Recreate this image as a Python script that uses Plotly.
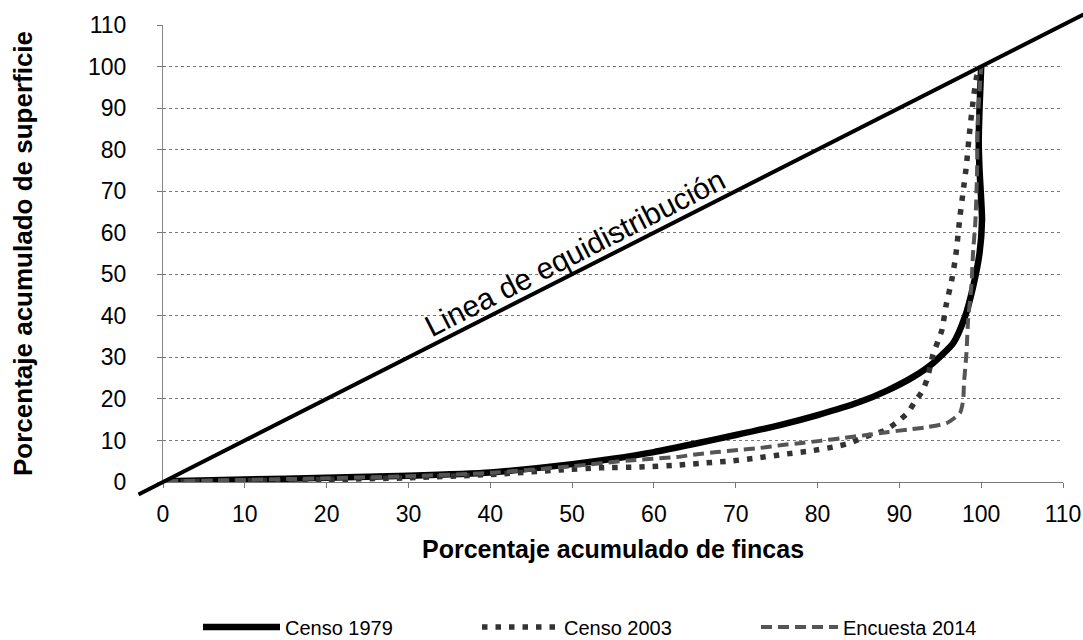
import plotly.graph_objects as go

# ---------------- data ----------------
ticks = [0, 10, 20, 30, 40, 50, 60, 70, 80, 90, 100, 110]

equi_x = [-3, 116]
equi_y = [-3, 116]

censo1979_x = [0.5, 10, 20, 30, 40, 50, 55, 60, 65, 70, 75.4, 80, 85.2, 88.5, 91.7, 94.1,
               96.6, 98.0, 99.0, 99.8, 100.1, 100.0, 99.8, 99.7, 99.8, 100]
censo1979_y = [0.2, 0.6, 1.0, 1.5, 2.3, 4.3, 5.6, 7.2, 9.2, 11.3, 13.7, 16.1, 19.3, 22, 25.3,
               28.6, 33.5, 39.7, 46.9, 55.1, 63, 68, 75, 82, 90, 100]

censo2003_x = [0.5, 10, 20, 30, 40, 48.5, 53.4, 58.3, 63.1, 66.4, 69.6, 72.7, 76, 79.2, 82.4,
               84, 85.4, 88.3, 89.7, 91, 91.8, 92.8, 93.4, 94.1, 95.2, 95.7, 96.4, 96.9, 97.4,
               97.8, 98.2, 98.5, 99, 99.5, 100]
censo2003_y = [0, 0.3, 0.6, 1.0, 1.8, 2.9, 3.4, 3.6, 4.1, 4.6, 5.1, 5.8, 6.7, 7.5, 8.6, 9.4,
               10.6, 12.5, 14.4, 16.6, 19, 21.9, 24.8, 30.6, 36.6, 42.4, 48.6, 54.6, 63.8, 70,
               76.3, 82.6, 91.5, 98, 100]

encuesta2014_x = [0.5, 10, 20, 30, 40, 50, 57, 62.8, 65.3, 67.7, 70.3, 73, 75.7, 78.1, 80.3,
                  83.1, 86, 88.5, 91, 93.4, 95.8, 97.4, 97.8, 97.9, 98.2, 98.4, 98.8, 99, 99.3,
                  99.5, 99.6, 100]
encuesta2014_y = [0.2, 0.5, 0.9, 1.4, 2.2, 3.8, 5.2, 6.0, 6.7, 7.2, 7.7, 8.2, 8.9, 9.4, 9.9,
                  10.6, 11.3, 12.0, 12.6, 13.2, 14.2, 16.6, 19.7, 23.8, 31, 39, 47, 55, 63,
                  75, 87, 100]

series_names = ["Censo 1979", "Censo 2003", "Encuesta 2014"]
x_title = "Porcentaje acumulado de fincas"
y_title = "Porcentaje acumulado de superficie"
line_label = "Linea de equidistribución"

# ---------------- layout geometry ----------------
W, H = 1083, 640
ML, MR, MT, MB = 138, 0, 0, 140
RW, RH = W - ML - MR, H - MT - MB
plot_left, plot_right, plot_top, plot_bottom = 163, 1063, 25, 482

dx0 = (plot_left - ML) / RW
dx1 = (plot_right - ML) / RW
dy0 = (H - MB - plot_bottom) / RH
dy1 = (H - MB - plot_top) / RH

AX_MIN, AX_MAX = 0, 110
sx = (AX_MAX - AX_MIN) / (dx1 - dx0)
sy = (AX_MAX - AX_MIN) / (dy1 - dy0)
x2_range = [AX_MIN - dx0 * sx, AX_MAX + (1 - dx1) * sx]
y2_range = [AX_MIN - dy0 * sy, AX_MAX + (1 - dy1) * sy]

FONT = "Liberation Sans, Arial, sans-serif"

fig = go.Figure()

fig.add_trace(go.Scatter(
    x=equi_x, y=equi_y, xaxis="x2", yaxis="y2", mode="lines",
    line=dict(color="black", width=4), showlegend=False, hoverinfo="skip"))

fig.add_trace(go.Scatter(
    x=censo1979_x, y=censo1979_y, mode="lines", name=series_names[0],
    line=dict(color="black", width=6.5, shape="spline", smoothing=0.6)))
fig.add_trace(go.Scatter(
    x=censo2003_x, y=censo2003_y, mode="lines", name=series_names[1],
    line=dict(color="#333333", width=5.5, dash="5.5px,8px", shape="spline", smoothing=0.6)))
fig.add_trace(go.Scatter(
    x=encuesta2014_x, y=encuesta2014_y, mode="lines", name=series_names[2],
    line=dict(color="#555555", width=4, dash="11px,6px", shape="spline", smoothing=0.6)))

grid_common = dict(gridcolor="#777777", griddash="dot", gridwidth=1)

fig.update_layout(
    width=W, height=H,
    margin=dict(l=ML, r=MR, t=MT, b=MB, autoexpand=False),
    paper_bgcolor="white", plot_bgcolor="rgba(0,0,0,0)",
    font=dict(family=FONT, color="black"),
    xaxis=dict(domain=[dx0, dx1], range=[AX_MIN, AX_MAX], tickvals=ticks,
               showgrid=False, zeroline=False, showline=True, linecolor="#777777",
               linewidth=1, ticks="outside", ticklen=5, tickcolor="#777777",
               ticklabelstandoff=6,
               tickfont=dict(size=23, family=FONT), anchor="y", automargin=False),
    yaxis=dict(domain=[dy0, dy1], range=[AX_MIN, AX_MAX], tickvals=ticks,
               showgrid=True, **grid_common, zeroline=False, showline=True,
               linecolor="#888888", linewidth=1, ticks="outside", ticklen=5,
               tickcolor="#777777", ticklabelstandoff=26,
               tickfont=dict(size=23, family=FONT), anchor="x",
               automargin=False),
    xaxis2=dict(domain=[0, 1], range=x2_range, visible=False, anchor="y2"),
    yaxis2=dict(domain=[0, 1], range=y2_range, visible=False, anchor="x2"),
    legend=dict(orientation="h", x=(198 - ML) / RW, xanchor="left",
                y=(H - MB - 627) / RH, yanchor="middle",
                font=dict(size=20, family=FONT), entrywidth=187, itemwidth=77,
                bgcolor="rgba(0,0,0,0)"),
    showlegend=True,
)

fig.add_annotation(text=line_label, x=50.4, y=55.2, xref="x", yref="y",
                   textangle=-27, showarrow=False,
                   font=dict(size=30, family=FONT, color="black"))
fig.add_annotation(text="<b>" + x_title + "</b>", x=(613 - ML) / RW, y=(H - MB - 549) / RH,
                   xref="paper", yref="paper", xanchor="center", yanchor="middle",
                   showarrow=False, font=dict(size=25, family=FONT))
fig.add_annotation(text="<b>" + y_title + "</b>", x=(23 - ML) / RW, y=(H - MB - 254) / RH,
                   xref="paper", yref="paper", xanchor="center", yanchor="middle",
                   showarrow=False, textangle=-90, font=dict(size=26, family=FONT))

fig.write_html("out.html", config={"displayModeBar": False},
               post_script="document.body.style.margin='0';")
